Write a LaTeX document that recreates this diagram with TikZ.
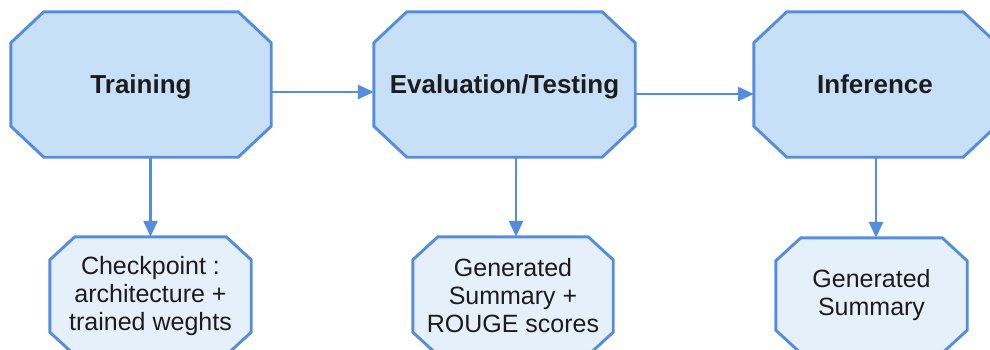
\documentclass[tikz,border=0pt]{standalone}
\usepackage{fontspec}
\setmainfont{Liberation Sans}
\usetikzlibrary{arrows.meta,backgrounds}

\definecolor{stagefill}{HTML}{C8E0F7}
\definecolor{outfill}{HTML}{E5F0FB}
\definecolor{edgeblue}{HTML}{548DDE}
\definecolor{inkdark}{HTML}{1C1C1C}

\tikzset{
  box/.style={rectangle, draw=none, inner sep=0pt, align=center,
    text=inkdark, font=\fontsize{25}{28}\selectfont},
  stage/.style={box, font=\fontsize{26}{30}\selectfont\bfseries,
    text height=18.6pt, text depth=0pt, minimum height=145pt},
  result/.style={box},
  % chamfered outline around a named node: #1 node, #2 x cut, #3 y cut
  octagon/.style n args={3}{insert path={
    ([xshift=#2]#1.north west) -- ([xshift=-#2]#1.north east) --
    ([yshift=-#3]#1.north east) -- ([yshift=#3]#1.south east) --
    ([xshift=-#2]#1.south east) -- ([xshift=#2]#1.south west) --
    ([yshift=#3]#1.south west) -- ([yshift=-#3]#1.north west) -- cycle}},
  stageshape/.style={fill=stagefill, draw=edgeblue, line width=2.9pt, line join=miter},
  resultshape/.style={fill=outfill, draw=edgeblue, line width=2.9pt, line join=miter},
  flow/.style={draw=edgeblue, line width=2.8pt,
    -{Triangle[length=16pt,width=14pt]}},
}

\begin{document}
\begin{tikzpicture}[x=1pt, y=-1pt]
  \useasboundingbox (0,0) rectangle (990,349);
  \clip (0,0) rectangle (990,349);

  % pipeline stages
  \node[stage, minimum width=260pt] (train) at (141,84.5) {Training};
  \node[stage, minimum width=261pt] (eval)  at (504.5,84.5) {Evaluation/Testing};
  \node[stage, minimum width=242pt] (infer) at (875,84.5) {Inference};

  % outputs of each stage
  \node[result, minimum width=201pt, minimum height=118pt] (ckpt) at (150.5,296)
    {Checkpoint :\\architecture +\\trained weghts};
  \node[result, minimum width=200pt, minimum height=118pt] (gsum) at (513,296)
    {Generated\\Summary +\\ROUGE scores};
  \node[result, minimum width=191pt, minimum height=115pt] (gout) at (871.5,295.5)
    {Generated\\Summary};

  \begin{scope}[on background layer]
    \path[stageshape] [octagon={train}{33pt}{31pt}];
    \path[stageshape] [octagon={eval}{33pt}{31pt}];
    \path[stageshape] [octagon={infer}{33pt}{31pt}];
    \path[resultshape] [octagon={ckpt}{25pt}{23pt}];
    \path[resultshape] [octagon={gsum}{25pt}{23pt}];
    \path[resultshape] [octagon={gout}{25pt}{23pt}];
  \end{scope}

  % connectors
  \draw[flow] ([yshift=-7.5pt]train.east) -- ([yshift=-7.5pt]eval.west);
  \draw[flow] ([yshift=-9.5pt]eval.east) -- ([yshift=-9.5pt]infer.west);
  \draw[flow] (ckpt.north |- train.south) -- (ckpt.north);
  \draw[flow] ([xshift=3pt]gsum.north |- eval.south) -- ([xshift=3pt]gsum.north);
  \draw[flow] ([xshift=4.5pt]gout.north |- infer.south) -- ([xshift=4.5pt]gout.north);
\end{tikzpicture}
\end{document}
